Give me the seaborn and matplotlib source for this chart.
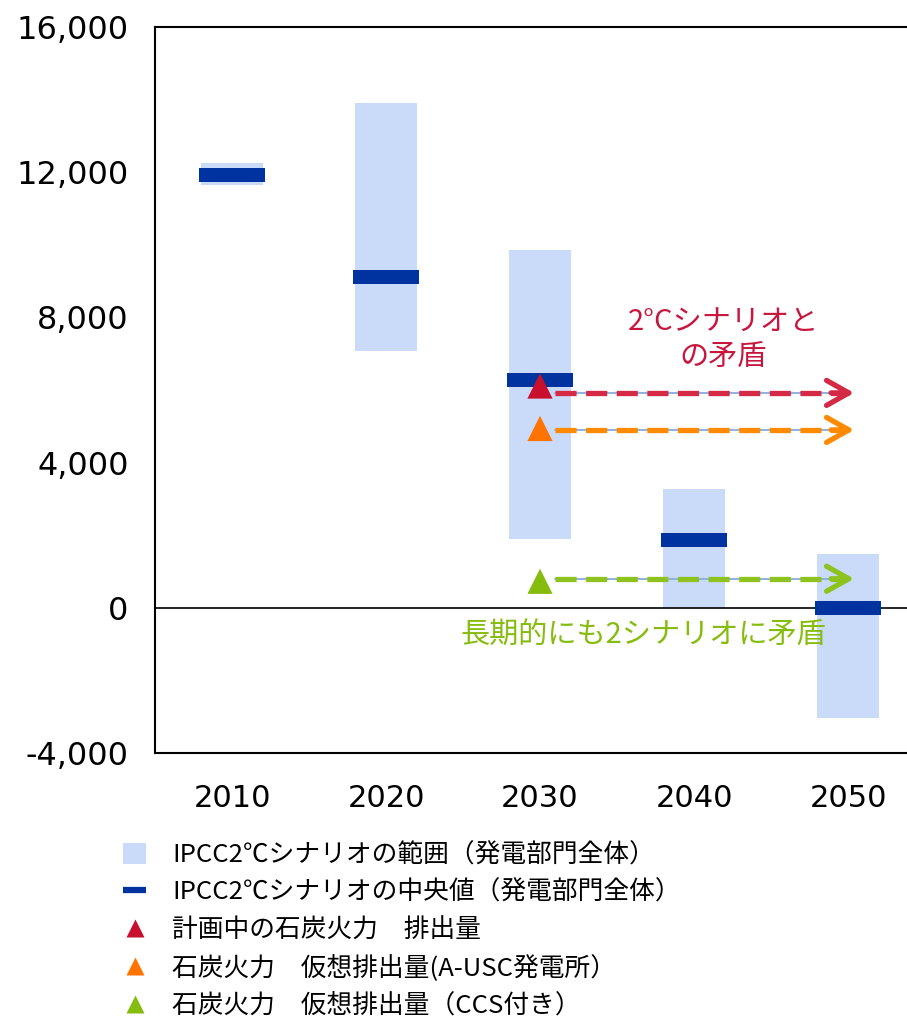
import matplotlib
matplotlib.use("Agg")
import matplotlib.pyplot as plt
from matplotlib.patches import Patch
from matplotlib.lines import Line2D
from matplotlib.ticker import FuncFormatter
import numpy as np
import pandas as pd
import seaborn as sns

# --- data -------------------------------------------------------------
years = ["2010", "2020", "2030", "2040", "2050"]
range_low = [11650, 7080, 1900, 0, -3030]
range_high = [12250, 13910, 9860, 3280, 1490]
median = [11930, 9120, 6280, 1870, 0]

coal_labels = ["計画中の石炭火力　排出量",
               "石炭火力　仮想排出量(A-USC発電所）",
               "石炭火力　仮想排出量（CCS付き）"]
coal_year = ["2030", "2030", "2030"]
coal_values = [6110, 4940, 730]
arrow_levels = [5920, 4900, 800]
arrow_end_year = 4.04

yticks = [-4000, 0, 4000, 8000, 12000, 16000]

range_label = "IPCC2℃シナリオの範囲（発電部門全体）"
median_label = "IPCC2℃シナリオの中央値（発電部門全体）"
note_red = "2°Cシナリオと\nの矛盾"
note_green = "長期的にも2シナリオに矛盾"

# --- style ------------------------------------------------------------
sns.set_theme(style="white")
plt.rcParams["font.family"] = ["DejaVu Sans", "Noto Sans CJK JP"]
plt.rcParams["text.color"] = "black"
jp = ["Noto Sans CJK JP", "DejaVu Sans"]

range_color = "#CADBFA"
median_color = "#0033A0"
coal_colors = ["#C8102E", "#FF7300", "#86BC0E"]
arrow_colors = ["#D42A45", "#FF8A00", "#8DC21F"]

fig = plt.figure(figsize=(9.07, 10.27), dpi=100)
ax = fig.add_axes([155 / 907, 1 - 753 / 1027, 770 / 907, 726 / 1027])

x = np.arange(len(years))
heights = np.array(range_high) - np.array(range_low)
ax.bar(x, heights, bottom=range_low, width=0.40, color=range_color,
       edgecolor="none", linewidth=0, zorder=1)
ax.bar(x, 380, bottom=np.array(median) - 190, width=0.43,
       color=median_color, edgecolor="none", linewidth=0, zorder=3)

ax.axhline(0, color="black", lw=1.2, zorder=2)

# arrows from the 2030 coal emission levels out to 2050
x0 = years.index("2030")
for lvl, col in zip(arrow_levels, arrow_colors):
    ax.plot([x0 + 0.1, arrow_end_year - 0.03], [lvl, lvl], color="#8FB0E0",
            lw=1.4, zorder=4)
    ax.plot([x0 + 0.1, arrow_end_year - 0.05], [lvl, lvl], color=col, lw=3.8,
            dashes=(4, 1.8), zorder=5, solid_capstyle="butt")
    ax.annotate("", xy=(arrow_end_year, lvl), xytext=(arrow_end_year - 0.15, lvl),
                arrowprops=dict(arrowstyle="->,head_length=0.8,head_width=0.45",
                                color=col, lw=3.8, mutation_scale=20,
                                shrinkA=0, shrinkB=0),
                zorder=5)

coal_df = pd.DataFrame({"x": [years.index(y) for y in coal_year],
                        "value": coal_values, "kind": coal_labels})
sns.scatterplot(data=coal_df, x="x", y="value", hue="kind",
                palette=dict(zip(coal_labels, coal_colors)), marker="^",
                s=330, edgecolor="none", ax=ax, legend=False, zorder=6)

ax.text(3.19, 7380, note_red, color="#C8173F", fontsize=21, family=jp,
        ha="center", va="center", linespacing=1.15, zorder=7)
ax.text(2.67, -760, note_green, color="#86BC0E", fontsize=21, family=jp,
        ha="center", va="center", zorder=7)

ax.set_xlim(-0.5, 4.5)
ax.set_ylim(-4000, 16000)
ax.set_xticks(x)
ax.set_xticklabels(years)
ax.set_yticks(yticks)
ax.yaxis.set_major_formatter(FuncFormatter(lambda v, p: f"{int(v):,}"))
ax.tick_params(axis="y", length=0, pad=19, labelsize=23, colors="black")
ax.tick_params(axis="x", length=0, pad=22, labelsize=22, colors="black")
ax.set_xlabel("")
ax.set_ylabel("")
for s in ax.spines.values():
    s.set_color("black")
    s.set_linewidth(1.5)

handles = [
    Patch(facecolor=range_color, edgecolor="none"),
    Line2D([], [], color=median_color, lw=4.5, solid_capstyle="butt"),
] + [Line2D([], [], ls="none", marker="^", markersize=13, color=c,
            markeredgecolor="none") for c in coal_colors]
labels = [range_label, median_label] + coal_labels
fig.legend(handles, labels, loc="upper left", bbox_to_anchor=(0.136, 0.180),
           frameon=False, prop={"family": jp, "size": 18.5}, labelcolor="black",
           handlelength=0.9, handleheight=0.9, handletextpad=1.0,
           labelspacing=0.45, borderpad=0, borderaxespad=0)

fig.savefig("out.png", dpi=100)
